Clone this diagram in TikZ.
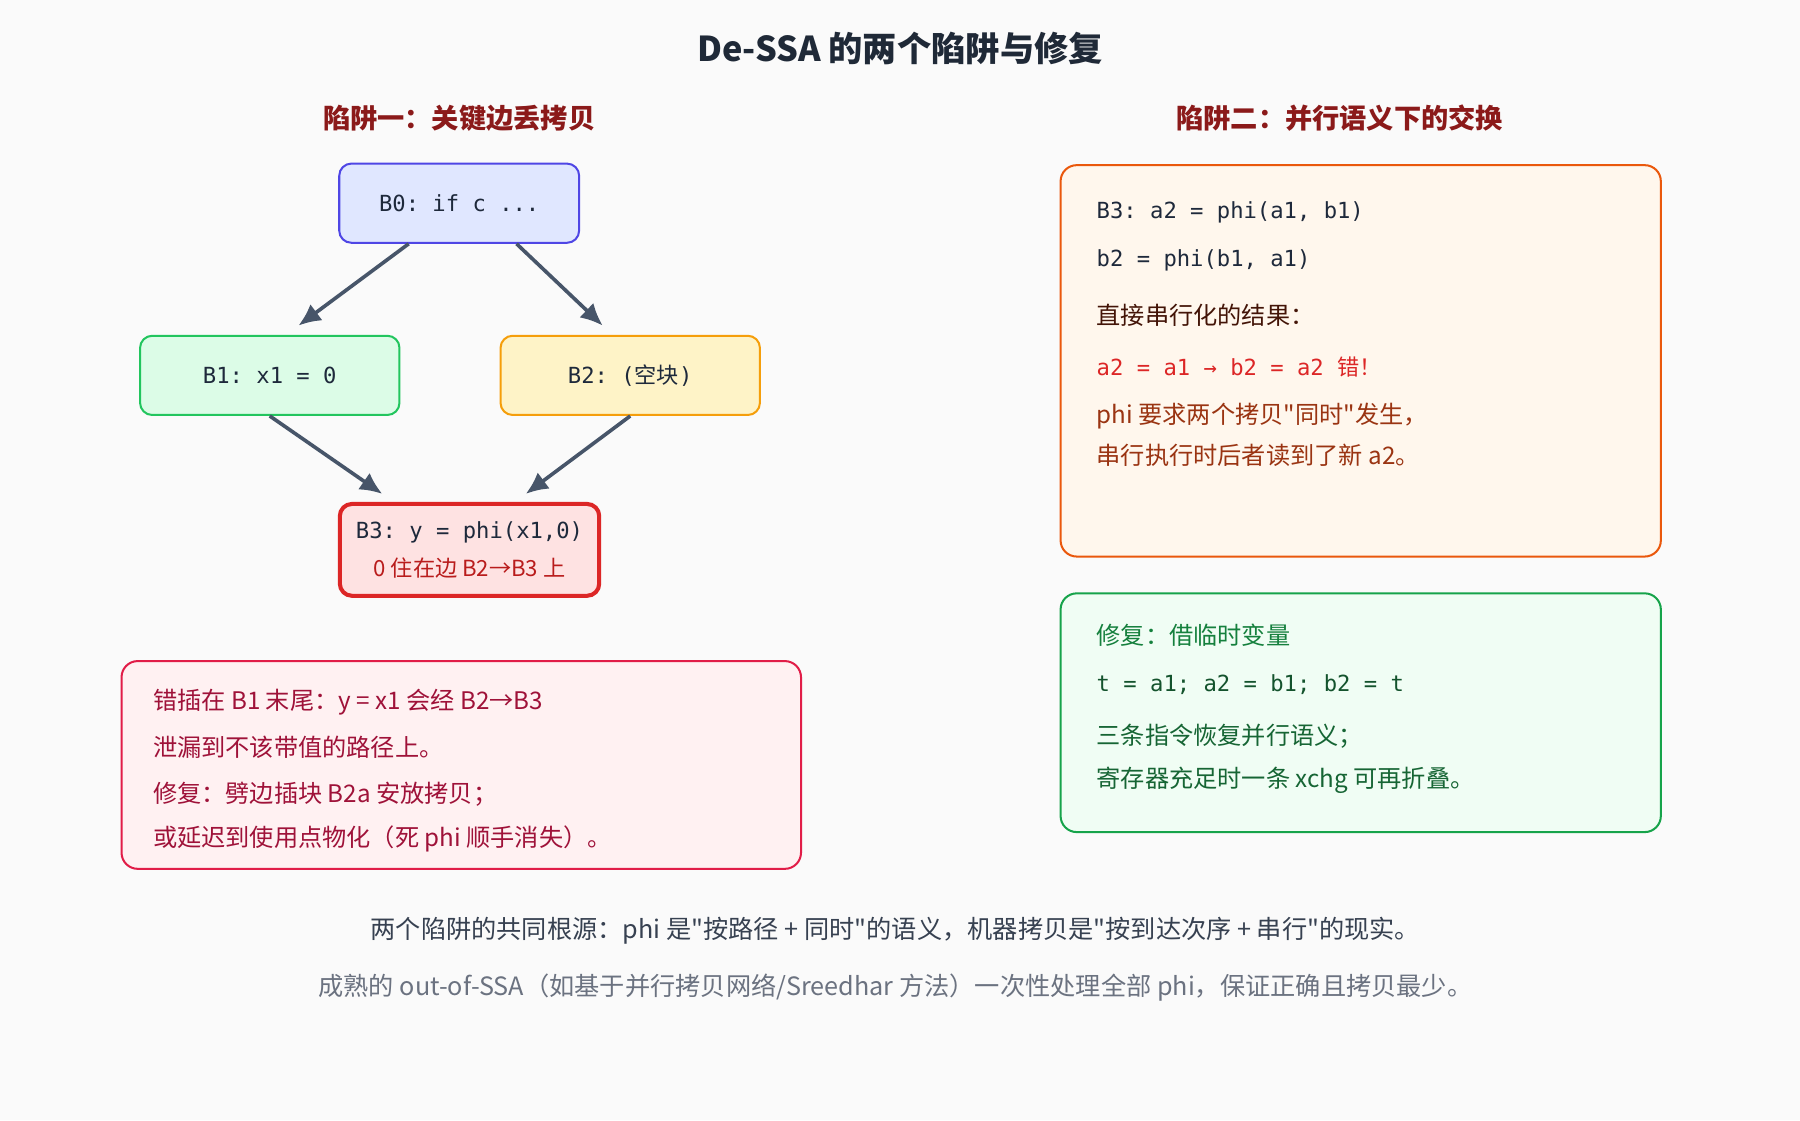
\documentclass[tikz,border=0pt]{standalone}
\usepackage{fontspec}
\setmainfont{Noto Sans CJK SC}[Ligatures=TeXOff]
\setmonofont{DejaVu Sans Mono}
\newfontfamily\cjk{Noto Sans CJK SC}[Ligatures=TeXOff]
\usetikzlibrary{arrows.meta}
\definecolor{bgc}{HTML}{FAFAFA}
\definecolor{titlec}{HTML}{1F2937}
\definecolor{subc}{HTML}{8B1A1A}
\definecolor{arrc}{HTML}{475569}
\definecolor{redtxt}{HTML}{9F1239}
\definecolor{orgtxt}{HTML}{9A3412}
\definecolor{orgdark}{HTML}{431407}
\definecolor{grntxt}{HTML}{166534}
\definecolor{grnhead}{HTML}{15803D}
\definecolor{grncode}{HTML}{14532D}
\definecolor{codec}{HTML}{1E293B}
\definecolor{errc}{HTML}{DC2626}
\definecolor{b3txt}{HTML}{B91C1C}
\definecolor{b0fill}{HTML}{E0E7FF}
\definecolor{b0line}{HTML}{4F46E5}
\definecolor{b1fill}{HTML}{DCFCE7}
\definecolor{b1line}{HTML}{22C55E}
\definecolor{b2fill}{HTML}{FEF3C7}
\definecolor{b2line}{HTML}{F59E0B}
\definecolor{b3fill}{HTML}{FEE2E2}
\definecolor{b3line}{HTML}{DC2626}
\definecolor{redfill}{HTML}{FFF1F2}
\definecolor{redline}{HTML}{E11D48}
\definecolor{orgfill}{HTML}{FFF7ED}
\definecolor{orgline}{HTML}{EA580C}
\definecolor{grnfill}{HTML}{F0FDF4}
\definecolor{grnline}{HTML}{16A34A}
\definecolor{footc}{HTML}{374151}
\definecolor{notec}{HTML}{6B7280}

\begin{document}
\begin{tikzpicture}[x=0.02cm, y=-0.02cm,
    blk/.style={draw, rounded corners=6pt, line width=1pt, inner sep=0pt,
      font=\ttfamily\fontsize{11}{14}\selectfont, text=codec},
    panel/.style={draw, rounded corners=8pt, line width=1pt, inner sep=0pt, anchor=north west},
    line/.style={anchor=west, inner sep=0pt, font=\fontsize{12}{14}\selectfont},
    code/.style={line, font=\ttfamily\fontsize{11}{14}\selectfont, text=codec},
    flow/.style={draw=arrc, line width=1.8pt, -{Latex[length=11pt,width=10pt]}}
    ]
    \fill[bgc] (0,0) rectangle (1568,976);

    % titles
    \node[font=\bfseries\fontsize{17}{20}\selectfont, text=titlec] (title) at (784,42) {De-SSA 的两个陷阱与修复};
    \node[font=\bfseries\fontsize{13.5}{16}\selectfont, text=subc] (sub1) at (400,103) {陷阱一：关键边丢拷贝};
    \node[font=\bfseries\fontsize{13.5}{16}\selectfont, text=subc] (sub2) at (1167,103) {陷阱二：并行语义下的交换};

    % CFG blocks
    \node[blk, fill=b0fill, draw=b0line, minimum width=4.18cm, minimum height=1.38cm] (B0) at (400,177) {B0: if c ...};
    \node[blk, fill=b1fill, draw=b1line, minimum width=4.52cm, minimum height=1.38cm] (B1) at (235,327) {B1: x1 = 0};
    \node[blk, fill=b2fill, draw=b2line, minimum width=4.52cm, minimum height=1.38cm] (B2) at (549,327) {B2: ({\cjk 空块})};
    \node[blk, fill=b3fill, draw=b3line, line width=2pt, minimum width=4.52cm, minimum height=1.6cm, align=center] (B3) at (409,479)
      {B3: y = phi(x1,0)\\[5pt]{\cjk\color{b3txt}0 住在边 B2→B3 上}};

    \draw[flow] ([xshift=-0.88cm]B0.south) -- ([xshift=0.5cm,yshift=0.16cm]B1.north);
    \draw[flow] ([xshift=1cm]B0.south) -- ([xshift=-0.48cm,yshift=0.16cm]B2.north);
    \draw[flow] (B1.south) -- ([xshift=-1.52cm,yshift=0.14cm]B3.north);
    \draw[flow] (B2.south) -- ([xshift=0.98cm,yshift=0.14cm]B3.north);

    % trap one explanation
    \node[panel, fill=redfill, draw=redline, minimum width=11.84cm, minimum height=3.62cm] (redbox) at (105,575) {};
    \node[line, text=redtxt] (r1) at (133,612) {错插在 B1 末尾：y = x1 会经 B2→B3};
    \node[line, text=redtxt] (r2) at (133,651) {泄漏到不该带值的路径上。};
    \node[line, text=redtxt] (r3) at (133,692) {修复：劈边插块 B2a 安放拷贝；};
    \node[line, text=redtxt] (r4) at (133,731) {或延迟到使用点物化（死 phi 顺手消失）。};

    % trap two
    \node[panel, fill=orgfill, draw=orgline, minimum width=10.46cm, minimum height=6.82cm] (orgbox) at (923,143) {};
    \node[code] (o1) at (955,185) {B3: a2 = phi(a1, b1)};
    \node[code] (o2) at (955,227) {b2 = phi(b1, a1)};
    \node[line, text=orgdark] (o3) at (955,275) {直接串行化的结果：};
    \node[code, text=errc] (o4) at (955,320) {a2 = a1 → b2 = a2 {\cjk 错！}};
    \node[line, text=orgtxt] (o5) at (955,362) {phi 要求两个拷贝"同时"发生，};
    \node[line, text=orgtxt] (o6) at (955,397) {串行执行时后者读到了新 a2。};

    \node[panel, fill=grnfill, draw=grnline, minimum width=10.46cm, minimum height=4.16cm] (grnbox) at (923,516) {};
    \node[line, text=grnhead] (g1) at (955,553) {修复：借临时变量};
    \node[code, text=grncode] (g2) at (955,596) {t = a1; a2 = b1; b2 = t};
    \node[line, text=grntxt] (g3) at (955,641) {三条指令恢复并行语义；};
    \node[line, text=grntxt] (g4) at (955,680) {寄存器充足时一条 xchg 可再折叠。};

    % footer
    \node[font=\fontsize{12.5}{14}\selectfont, text=footc] (foot1) at (780,811)
      {两个陷阱的共同根源：phi 是"按路径 + 同时"的语义，机器拷贝是"按到达次序 + 串行"的现实。};
    \node[font=\fontsize{12.5}{14}\selectfont, text=notec] (foot2) at (780,860)
      {成熟的 out-of-SSA（如基于并行拷贝网络/Sreedhar 方法）一次性处理全部 phi，保证正确且拷贝最少。};
\end{tikzpicture}
\end{document}
